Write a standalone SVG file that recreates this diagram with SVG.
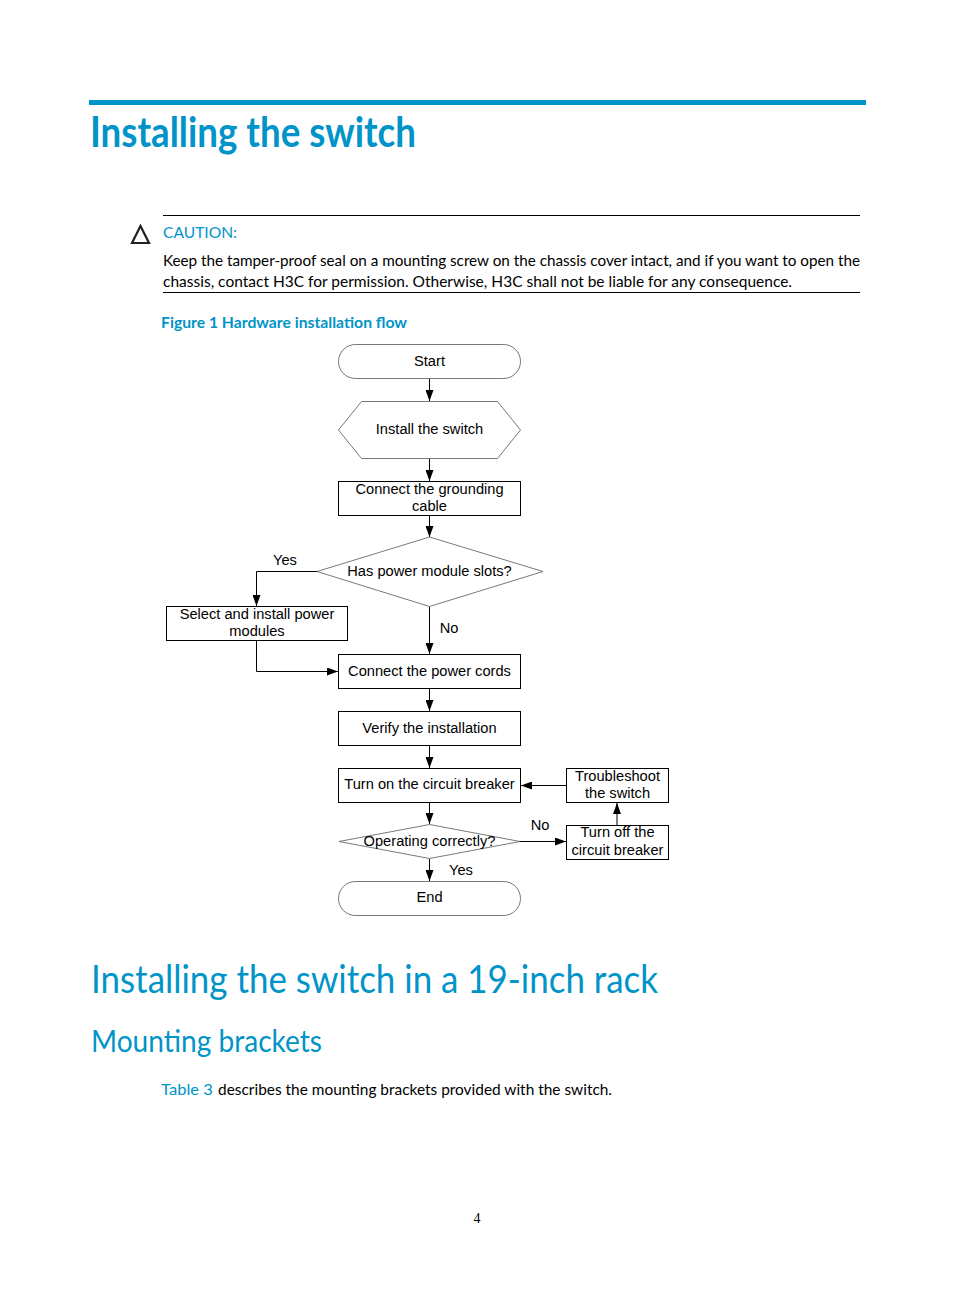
<svg xmlns="http://www.w3.org/2000/svg" width="954" height="1294" viewBox="0 0 954 1294">
<defs>
<marker id="arr" markerUnits="userSpaceOnUse" markerWidth="11" markerHeight="8" refX="11" refY="4" orient="auto"><path d="M0 0L11 4L0 8Z" fill="#000"/></marker>
</defs>
<style>
.fc{font-family:"Liberation Sans",Arial,sans-serif;font-size:14.65px;fill:#000;text-anchor:middle}
.doc{font-family:Lato,"Open Sans",sans-serif;font-size:16px;fill:#000}
.blue{fill:#0094c8}
.box{fill:#fff;stroke:#000;stroke-width:1}
.thin{fill:#fff;stroke:#555;stroke-width:.8}
.con{fill:none;stroke:#000;stroke-width:1;marker-end:url(#arr)}
.rule{stroke:#000;stroke-width:1}
</style>
<rect width="954" height="1294" fill="#fff"/>
<g id="page">
<rect x="89" y="100" width="777" height="5" fill="#0094c8"/>
<text x="90" y="147" class="blue" font-family="Lato,sans-serif" font-size="42" font-weight="700" textLength="326" lengthAdjust="spacingAndGlyphs">Installing the switch</text>
<line x1="163" y1="215.500" x2="860" y2="215.500" class="rule"/>
<path d="M140.500 226L149 243H132Z" fill="none" stroke="#222" stroke-width="2.200"/>
<text x="163" y="238" class="doc blue" textLength="74" lengthAdjust="spacingAndGlyphs">CAUTION:</text>
<text x="163" y="266" class="doc" textLength="697" lengthAdjust="spacingAndGlyphs">Keep the tamper-proof seal on a mounting screw on the chassis cover intact, and if you want to open the</text>
<text x="163" y="287" class="doc" textLength="629" lengthAdjust="spacingAndGlyphs">chassis, contact H3C for permission. Otherwise, H3C shall not be liable for any consequence.</text>
<line x1="163" y1="292.500" x2="860" y2="292.500" class="rule"/>
<text x="161" y="328" class="doc blue" font-weight="700" textLength="246" lengthAdjust="spacingAndGlyphs">Figure 1 Hardware installation flow</text>
<text x="91" y="993" class="blue" font-family="Lato,sans-serif" font-size="38" textLength="567" lengthAdjust="spacingAndGlyphs">Installing the switch in a 19-inch rack</text>
<text x="91" y="1052" class="blue" font-family="Lato,sans-serif" font-size="30" textLength="231" lengthAdjust="spacingAndGlyphs">Mounting brackets</text>
<text x="161" y="1095" class="doc blue" textLength="52" lengthAdjust="spacingAndGlyphs">Table 3</text>
<text x="218" y="1095" class="doc" textLength="394" lengthAdjust="spacingAndGlyphs">describes the mounting brackets provided with the switch.</text>
<text x="477" y="1223" font-family="Liberation Serif,serif" font-size="14" text-anchor="middle">4</text>
</g>
<g id="connectors">
<path class="con" d="M429.500 379V401"/>
<path class="con" d="M429.500 459V481"/>
<path class="con" d="M429.500 516V537"/>
<path class="con" d="M317 571.500H256.500V606"/>
<path class="con" d="M429.500 607V654"/>
<path class="con" d="M256.500 641V671.500H338"/>
<path class="con" d="M429.500 689V711"/>
<path class="con" d="M429.500 746V768"/>
<path class="con" d="M429.500 803V824"/>
<path class="con" d="M429.500 859V881"/>
<path class="con" d="M519 841.500H566"/>
<path class="con" d="M617 825V803"/>
<path class="con" d="M566 785.500H521"/>
</g>
<g id="start"><rect class="thin" x="338.500" y="344.500" width="182" height="34" rx="17"/><text class="fc" x="429.500" y="366">Start</text></g>
<g id="install"><path class="thin" d="M361.500 401.500H497.500L520.500 430L497.500 458.500H361.500L338.500 430Z"/><text class="fc" x="429.500" y="434">Install the switch</text></g>
<g id="grounding"><rect class="box" x="338.500" y="481.500" width="182" height="34"/><text class="fc" x="429.500" y="494">Connect the grounding</text><text class="fc" x="429.500" y="511">cable</text></g>
<g id="slots"><path class="thin" d="M429.500 537L543 571.500L429.500 606.500L317 571.500Z"/><text class="fc" x="429.500" y="576">Has power module slots?</text></g>
<g id="modules"><rect class="box" x="166.500" y="606.500" width="181" height="34"/><text class="fc" x="257" y="619">Select and install power</text><text class="fc" x="257" y="636">modules</text></g>
<g id="cords"><rect class="box" x="338.500" y="654.500" width="182" height="34"/><text class="fc" x="429.500" y="676">Connect the power cords</text></g>
<g id="verify"><rect class="box" x="338.500" y="711.500" width="182" height="34"/><text class="fc" x="429.500" y="733">Verify the installation</text></g>
<g id="breaker"><rect class="box" x="338.500" y="768.500" width="182" height="34"/><text class="fc" x="429.500" y="789">Turn on the circuit breaker</text></g>
<g id="troubleshoot"><rect class="box" x="566.500" y="768.500" width="102" height="34"/><text class="fc" x="617.500" y="781">Troubleshoot</text><text class="fc" x="617.500" y="798">the switch</text></g>
<g id="operating"><path class="thin" d="M429.500 824.500L520 841.500L429.500 858.500L339 841.500Z"/><text class="fc" x="429.500" y="846">Operating correctly?</text></g>
<g id="off"><rect class="box" x="566.500" y="825.500" width="102" height="34"/><text class="fc" x="617.500" y="837">Turn off the</text><text class="fc" x="617.500" y="855">circuit breaker</text></g>
<g id="end"><rect class="thin" x="338.500" y="881.500" width="182" height="34" rx="17"/><text class="fc" x="429.500" y="902">End</text></g>
<g id="labels">
<text class="fc" x="285" y="565">Yes</text>
<text class="fc" x="449" y="633">No</text>
<text class="fc" x="540" y="830">No</text>
<text class="fc" x="461" y="875">Yes</text>
</g>
</svg>
